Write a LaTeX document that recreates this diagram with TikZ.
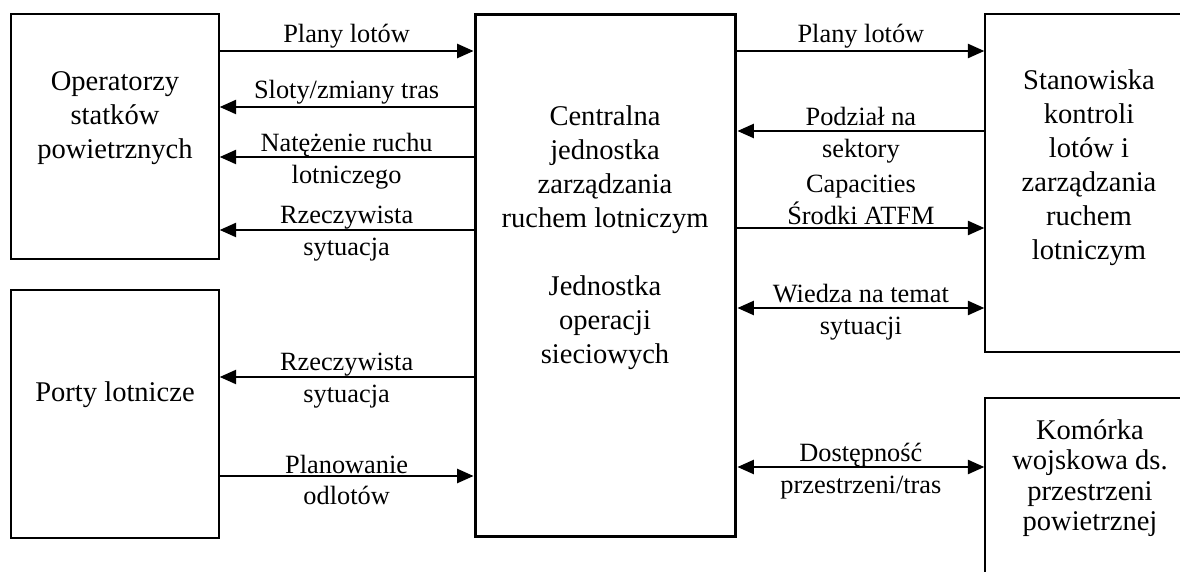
\documentclass[tikz,border=0pt]{standalone}
\usepackage{fontspec}
\setmainfont{Liberation Serif}
\usetikzlibrary{arrows.meta,positioning,calc}

\begin{document}
\begin{tikzpicture}[
    x=0.016cm, y=-0.016cm,
    box/.style={rectangle, draw=black, line width=0.7pt, inner sep=0pt},
    boxtext/.style={align=center, font=\fontsize{13}{15.5}\selectfont},
    lbl/.style={align=center, font=\fontsize{12}{14.5}\selectfont, inner sep=1pt},
    mid/.style={lbl, yshift=-1.8pt},
    flow/.style={-{Triangle[length=7.5pt,width=6.5pt]}, line width=0.8pt},
    both/.style={{Triangle[length=7.5pt,width=6.5pt]}-{Triangle[length=7.5pt,width=6.5pt]}, line width=0.8pt}
]
    \useasboundingbox (0,0) rectangle (1180,572);

    % boxes
    \node[box, minimum width=3.328cm, minimum height=3.92cm] (ops) at (115,136.5) {};
    \node[box, minimum width=3.328cm, minimum height=3.968cm] (ports) at (115,414) {};
    \node[box, line width=1.4pt, minimum width=4.176cm, minimum height=8.368cm] (cfmu) at (605.5,275.5) {};
    \node[box, minimum width=3.36cm, minimum height=5.408cm] (atc) at (1090,183) {};
    \node[box, minimum width=3.36cm, minimum height=3.552cm] (mil) at (1090,509) {};

    \node[boxtext] (opstxt) at (115,118) {Operatorzy\\statków\\powietrznych};
    \node[boxtext] (portstxt) at (115,395) {Porty lotnicze};
    \node[boxtext] (cfmutxt) at (605,238) {Centralna\\jednostka\\zarządzania\\ruchem lotniczym\\[15.5pt]Jednostka\\operacji\\sieciowych};
    \node[boxtext] (atctxt) at (1089,168) {Stanowiska\\kontroli\\lotów i\\zarządzania\\ruchem\\lotniczym};
    \node[boxtext, font=\fontsize{13}{13.8}\selectfont] (miltxt) at (1090,478) {Komórka\\wojskowa ds.\\przestrzeni\\powietrznej};

    % rows of the connectors
    \coordinate (l1) at (0,51);
    \coordinate (l2) at (0,107);
    \coordinate (l3) at (0,157);
    \coordinate (l4) at (0,230);
    \coordinate (l5) at (0,377);
    \coordinate (l6) at (0,476);
    \coordinate (r1) at (0,51);
    \coordinate (r2) at (0,131);
    \coordinate (r3) at (0,228);
    \coordinate (r4) at (0,308);
    \coordinate (r5) at (0,467);

    % left side
    \draw[flow] (ops.east |- l1) -- node[lbl, above] {Plany lotów} (cfmu.west |- l1);
    \draw[flow] (cfmu.west |- l2) -- node[lbl, above] {Sloty/zmiany tras} (ops.east |- l2);
    \draw[flow] (cfmu.west |- l3) -- node[mid] {Natężenie ruchu\\lotniczego} (ops.east |- l3);
    \draw[flow] (cfmu.west |- l4) -- node[mid] {Rzeczywista\\sytuacja} (ops.east |- l4);
    \draw[flow] (cfmu.west |- l5) -- node[mid] {Rzeczywista\\sytuacja} (ports.east |- l5);
    \draw[flow] (ports.east |- l6) -- node[mid] {Planowanie\\odlotów} (cfmu.west |- l6);

    % right side
    \draw[flow] (cfmu.east |- r1) -- node[lbl, above] {Plany lotów} (atc.west |- r1);
    \draw[flow] (atc.west |- r2) -- node[mid] {Podział na\\sektory} (cfmu.east |- r2);
    \draw[flow] (cfmu.east |- r3) -- node[lbl, above] {Capacities\\Środki ATFM} (atc.west |- r3);
    \draw[both] (cfmu.east |- r4) -- node[mid] {Wiedza na temat\\sytuacji} (atc.west |- r4);
    \draw[both] (cfmu.east |- r5) -- node[mid] {Dostępność\\przestrzeni/tras} (mil.west |- r5);
\end{tikzpicture}
\end{document}
